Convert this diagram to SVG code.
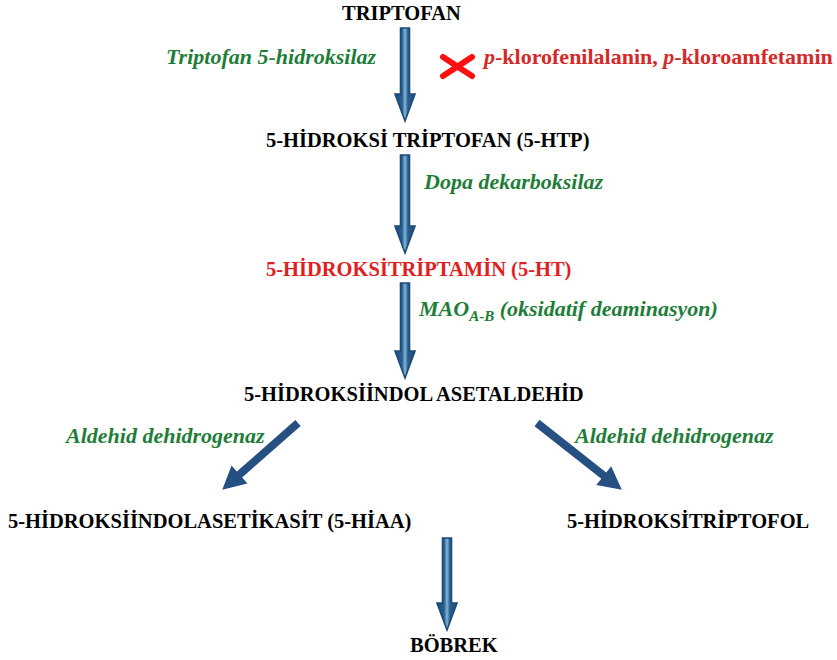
<svg xmlns="http://www.w3.org/2000/svg" width="837" height="660" viewBox="0 0 837 660">
<style>
.n{font-family:"Liberation Serif","Times New Roman",serif;font-weight:bold;font-size:20.5px;fill:#000}
.r{fill:#e0201e}
.e{font-family:"Liberation Serif","Times New Roman",serif;font-weight:bold;font-style:italic;font-size:22px;fill:#1f7d3a}
.inh{font-family:"Liberation Serif","Times New Roman",serif;font-weight:bold;font-size:22px;fill:#d42a2a}
.va{fill:url(#g);stroke:#1d4a78;stroke-width:1.6;stroke-linejoin:miter}
.da{fill:#264f82}
</style>
<defs>
<linearGradient id="g" x1="0" y1="0" x2="1" y2="0">
<stop offset="0" stop-color="#1d4a78"/>
<stop offset="0.36" stop-color="#2a5f90"/>
<stop offset="0.5" stop-color="#80b8d8"/>
<stop offset="0.64" stop-color="#2a5f90"/>
<stop offset="1" stop-color="#1d4a78"/>
</linearGradient>
</defs>
<rect width="837" height="660" fill="#fff"/>
<g id="connectors">
<path class="va" d="M400.5,28 H409.5 V94 H415 L405,121 L395,94 H400.5 Z"/>
<path class="va" d="M400.5,155 H409.5 V226 H415 L405,253 L395,226 H400.5 Z"/>
<path class="va" d="M400.5,283 H409.5 V351 H415 L405,378 L395,351 H400.5 Z"/>
<path class="va" d="M442.5,538 H451.5 V603 H457 L447,630 L437,603 H442.5 Z"/>
<polygon class="da" transform="translate(298,423) rotate(138.6)" points="0,-4 78,-4 78,-12 101,0 78,12 78,4 0,4"/>
<polygon class="da" transform="translate(537,423) rotate(38.25)" points="0,-4 85,-4 85,-12 108,0 85,12 85,4 0,4"/>
</g>
<g id="triptofan"><text class="n" x="342" y="20">TRIPTOFAN</text></g>
<g id="enzyme1"><text class="e" x="166" y="64">Triptofan 5-hidroksilaz</text></g>
<g id="inhibitor">
<path d="M443,57 L472,76 M443,76 L472,57" stroke="#ff1010" stroke-width="6" stroke-linecap="round" fill="none"/>
<text class="inh" x="484" y="64"><tspan font-style="italic">p</tspan>-klorofenilalanin, <tspan font-style="italic">p</tspan>-kloroamfetamin</text>
</g>
<g id="htp"><text class="n" x="266" y="147">5-HİDROKSİ TRİPTOFAN (5-HTP)</text></g>
<g id="enzyme2"><text class="e" x="424" y="189">Dopa dekarboksilaz</text></g>
<g id="ht"><text class="n r" x="266" y="276">5-HİDROKSİTRİPTAMİN (5-HT)</text></g>
<g id="enzyme3"><text class="e" x="419" y="316">MAO<tspan font-size="15" dy="5">A-B</tspan><tspan dy="-5"> (oksidatif deaminasyon)</tspan></text></g>
<g id="asetaldehid"><text class="n" x="244" y="401">5-HİDROKSİİNDOL ASETALDEHİD</text></g>
<g id="enzyme4"><text class="e" x="66" y="443">Aldehid dehidrogenaz</text></g>
<g id="enzyme5"><text class="e" x="575" y="443">Aldehid dehidrogenaz</text></g>
<g id="hiaa"><text class="n" x="8" y="528">5-HİDROKSİİNDOLASETİKASİT (5-HİAA)</text></g>
<g id="triptofol"><text class="n" x="567" y="528">5-HİDROKSİTRİPTOFOL</text></g>
<g id="bobrek"><text class="n" x="410" y="652">BÖBREK</text></g>
</svg>
